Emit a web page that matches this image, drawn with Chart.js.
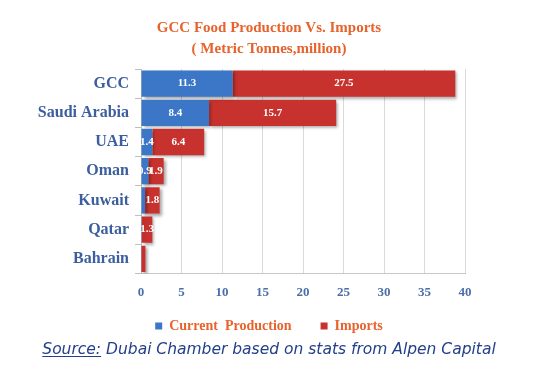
<!DOCTYPE html>
<html>
<head>
<meta charset="utf-8">
<script src="https://cdn.jsdelivr.net/npm/chart.js@4"></script>
<style>
  html, body { margin: 0; padding: 0; background: #fff; }
  #wrap { position: relative; width: 538px; height: 378px; }
  #box { position: absolute; left: 0; top: 0; width: 538px; height: 343px; }
  #source {
    position: absolute; left: 0; width: 538px; top: 340px;
    text-align: center; font-family: 'DejaVu Sans', sans-serif;
    font-style: italic; font-size: 15.5px; color: #24408a;
  }
  #source u { text-underline-offset: 2px; }
</style>
</head>
<body>
<div id="wrap">
  <div id="box"><canvas id="chart"></canvas></div>
  <div id="source"><u>Source:</u> Dubai Chamber based on stats from Alpen Capital</div>
</div>
<script>
// values (metric tonnes, million)
const countries = ['GCC', 'Saudi Arabia', 'UAE', 'Oman', 'Kuwait', 'Qatar', 'Bahrain'];
const production = [11.3, 8.4, 1.4, 0.9, 0.5, 0.1, 0.05];
const imports = [27.5, 15.7, 6.4, 1.9, 1.8, 1.3, 0.5];
const xTicks = [0, 5, 10, 15, 20, 25, 30, 35, 40];

const serif = "'Liberation Serif', 'DejaVu Serif', serif";

// white value labels in the middle of each segment
const barLabels = {
  id: 'barLabels',
  afterDatasetsDraw(chart) {
    const ctx = chart.ctx;
    ctx.save();
    ctx.fillStyle = '#ffffff';
    ctx.font = 'bold 11px ' + serif;
    ctx.textAlign = 'center';
    ctx.textBaseline = 'middle';
    chart.data.datasets.forEach((ds, i) => {
      chart.getDatasetMeta(i).data.forEach((bar, j) => {
        const v = ds.data[j];
        if (v < 0.9) return;
        ctx.fillText(v.toFixed(1), (bar.x + bar.base) / 2, bar.y);
      });
    });
    ctx.restore();
  }
};

// soft shadow under the bars
const barShadow = {
  id: 'barShadow',
  beforeDatasetsDraw(chart) {
    const ctx = chart.ctx;
    ctx.save();
    ctx.shadowColor = 'rgba(0,0,0,0.35)';
    ctx.shadowBlur = 3;
    ctx.shadowOffsetX = 2;
    ctx.shadowOffsetY = 2;
  },
  afterDatasetsDraw(chart) {
    chart.ctx.restore();
  }
};

new Chart(document.getElementById('chart'), {
  type: 'bar',
  data: {
    labels: countries,
    datasets: [
      {
        label: 'Current  Production      ',
        data: production,
        backgroundColor: '#3b77c6',
        barPercentage: 0.9,
        categoryPercentage: 1
      },
      {
        label: 'Imports',
        data: imports,
        backgroundColor: '#c8322e',
        barPercentage: 0.9,
        categoryPercentage: 1
      }
    ]
  },
  options: {
    indexAxis: 'y',
    responsive: true,
    maintainAspectRatio: false,
    animation: false,
    layout: { padding: { left: 0, right: 0, top: 8, bottom: 0 } },
    plugins: {
      title: {
        display: true,
        text: ['GCC Food Production Vs. Imports', '( Metric Tonnes,million)'],
        color: '#e8622c',
        font: { family: serif, size: 15, weight: 'bold', lineHeight: 1.4 },
        padding: { top: 10, bottom: 9 }
      },
      legend: {
        position: 'bottom',
        labels: {
          color: '#e8622c',
          font: { family: serif, size: 14, weight: 'bold' },
          boxWidth: 7,
          boxHeight: 7,
          padding: 8
        }
      },
      tooltip: { enabled: false }
    },
    scales: {
      x: {
        stacked: true,
        min: 0,
        max: 40,
        afterBuildTicks(axis) { axis.ticks = xTicks.map(v => ({ value: v })); },
        grid: { color: '#d9d9d9', drawTicks: false },
        border: { display: true, color: '#c8c8c8' },
        ticks: {
          color: '#4a6fa8',
          font: { family: serif, size: 13, weight: 'bold' },
          padding: 11
        }
      },
      y: {
        stacked: true,
        afterFit(axis) { axis.width = 141; },
        grid: { drawOnChartArea: false, color: '#bfbfbf', tickLength: 6 },
        border: { color: '#bfbfbf' },
        ticks: {
          color: '#3b5e9c',
          font: { family: serif, size: 16, weight: 'bold' },
          padding: 6
        }
      },
      // empty right-hand axis, only there to keep the plot's right margin
      yRight: {
        type: 'category',
        position: 'right',
        display: true,
        afterFit(axis) { axis.width = 73; },
        grid: { display: false },
        border: { display: false },
        ticks: { display: false }
      }
    }
  },
  plugins: [barShadow, barLabels]
});
</script>
</body>
</html>
